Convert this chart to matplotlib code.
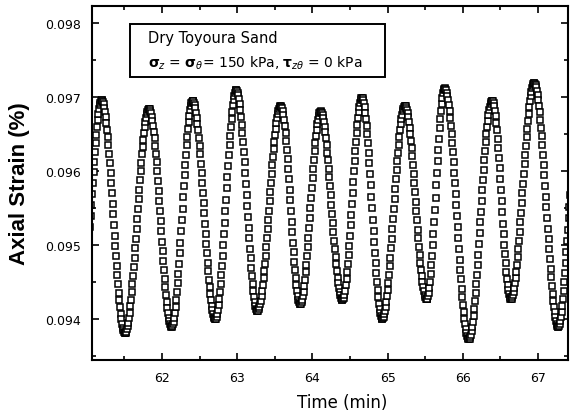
import numpy as np
import matplotlib.pyplot as plt
from matplotlib.ticker import MultipleLocator, FormatStrFormatter
from matplotlib.patches import Rectangle

plt.rcParams['font.family'] = ['DejaVu Sans']

# turning points of the strain record (time in min, strain in %)
turn_t = [60.92, 61.20, 61.51, 61.83, 62.13, 62.41, 62.71, 62.99, 63.27, 63.58,
          63.84, 64.11, 64.40, 64.66, 64.93, 65.23, 65.52, 65.76, 66.08, 66.39,
          66.64, 66.95, 67.27, 67.55]
turn_v = [0.09400, 0.09696, 0.09381, 0.09684, 0.09390, 0.09695, 0.09400, 0.09709,
          0.09411, 0.09688, 0.09420, 0.09681, 0.09426, 0.09699, 0.09401, 0.09688,
          0.09427, 0.09712, 0.09373, 0.09695, 0.09427, 0.09719, 0.09390, 0.09700]
dt = 0.009  # sample step of the logger, min

# NOTE: the ~700 overlapping markers can't be read one by one from the image.
# Only the peaks/troughs above are read values; the samples in between are
# modelled as a half cosine between consecutive turning points.
t_all, v_all = [], []
for i in range(len(turn_t) - 1):
    t0, t1 = turn_t[i], turn_t[i + 1]
    v0, v1 = turn_v[i], turn_v[i + 1]
    ts = np.arange(t0, t1, dt)
    ph = (ts - t0) / (t1 - t0)
    t_all.append(ts)
    v_all.append(v0 + (v1 - v0) * (1 - np.cos(np.pi * ph)) / 2)
t_all = np.concatenate(t_all)
v_all = np.concatenate(v_all)

fig = plt.figure(figsize=(5.71, 4.14), dpi=100)
ax = fig.add_axes([0.161, 0.128, 0.834, 0.855])

ax.plot(t_all, v_all, ls='none', marker='s', ms=5, mfc='white',
        mec='black', mew=1.1)

ax.set_xlim(61.07, 67.40)
ax.set_ylim(0.09345, 0.09823)
ax.xaxis.set_major_locator(MultipleLocator(1))
ax.xaxis.set_minor_locator(MultipleLocator(0.5))
ax.yaxis.set_major_locator(MultipleLocator(0.001))
ax.yaxis.set_minor_locator(MultipleLocator(0.0005))
ax.xaxis.set_major_formatter(FormatStrFormatter('%d'))
ax.yaxis.set_major_formatter(FormatStrFormatter('%.3f'))
ax.tick_params(which='both', direction='in', top=True, right=True, width=1.2)
ax.tick_params(which='major', length=5, labelsize=9)
ax.tick_params(axis='y', which='major', pad=8)
ax.tick_params(axis='x', which='major', pad=8)
ax.tick_params(which='minor', length=3)
for s in ax.spines.values():
    s.set_linewidth(1.5)

ax.set_xlabel('Time (min)', fontsize=12)
ax.xaxis.set_label_coords(0.525, -0.093)
ax.set_ylabel('Axial Strain (%)', fontsize=16, fontweight='bold',
              family='Liberation Sans')
ax.yaxis.set_label_coords(-0.130, 0.5)

ax.add_patch(Rectangle((0.080, 0.799), 0.536, 0.150, transform=ax.transAxes,
                       fc='white', ec='black', lw=1.4, zorder=3))
ax.text(0.118, 0.912, 'Dry Toyoura Sand', transform=ax.transAxes,
        fontsize=10.5, va='center', ha='left', zorder=4)
ax.text(0.118, 0.842,
        r'$\mathbf{\sigma}_z$ = $\mathbf{\sigma}_\theta$= 150 kPa, $\mathbf{\tau}_{z\theta}$ = 0 kPa',
        transform=ax.transAxes, fontsize=10, va='center', ha='left', zorder=4)

fig.savefig('out.png', dpi=100)
